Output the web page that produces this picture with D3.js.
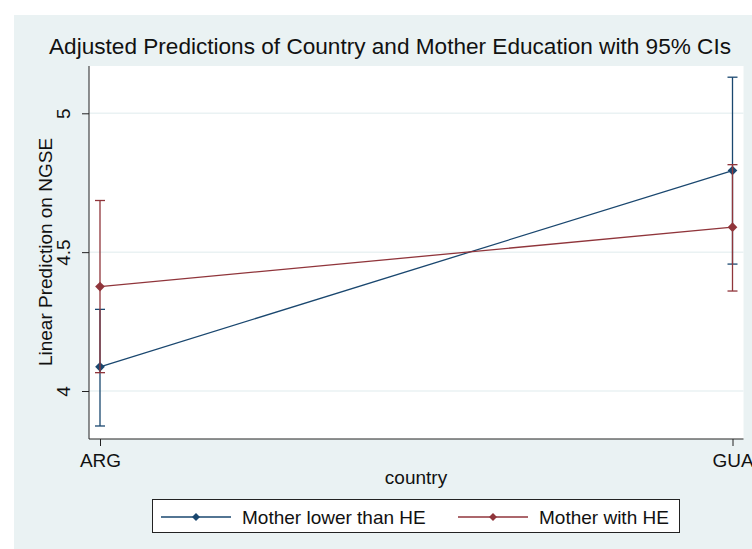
<!DOCTYPE html>
<html>
<head>
<meta charset="utf-8">
<script src="https://cdn.jsdelivr.net/npm/d3@7"></script>
<style>
  body { margin: 0; background: #fff; }
  text { font-family: "Liberation Sans", Arial, sans-serif; fill: #111; }
</style>
</head>
<body>
<script>
// data
countries = ["ARG", "GUA"]
seriesNames = ["Mother lower than HE", "Mother with HE"]
seriesColors = ["#1a476f", "#90353b"]
margins = [4.087, 4.794]          // Mother lower than HE
marginsLo = [3.874, 4.457]
marginsHi = [4.294, 5.130]
marginsHE = [4.376, 4.590]        // Mother with HE
marginsHELo = [4.066, 4.360]
marginsHEHi = [4.686, 4.815]
yTicks = [4, 4.5, 5]

width = 752
height = 549
bg = "#eaf2f3"

plotLeft = 89
plotTop = 66
plotRight = 743.5
plotBottom = 439

series = [
  {name: seriesNames[0], color: seriesColors[0], mid: margins, lo: marginsLo, hi: marginsHi},
  {name: seriesNames[1], color: seriesColors[1], mid: marginsHE, lo: marginsHELo, hi: marginsHEHi}
]

x = d3.scalePoint().domain(countries).range([100, 732.5])
y = d3.scaleLinear().domain([4, 5]).range([391, 113.3])

svg = d3.select("body")
    .append("svg")
    .attr("width", width)
    .attr("height", height)

svg.append("rect")
    .attr("x", 14).attr("y", 15)
    .attr("width", width - 14).attr("height", height - 15)
    .attr("fill", bg)

svg.append("rect")
    .attr("x", plotLeft).attr("y", plotTop)
    .attr("width", plotRight - plotLeft).attr("height", plotBottom - plotTop)
    .attr("fill", "#fff")

// gridlines
svg.selectAll("line.grid")
    .data(yTicks)
    .enter()
    .append("line")
    .attr("class", "grid")
    .attr("x1", plotLeft).attr("x2", plotRight)
    .attr("y1", function(d) { return y(d); })
    .attr("y2", function(d) { return y(d); })
    .attr("stroke", bg)
    .attr("stroke-width", 1.5)

// title
svg.append("text")
    .attr("x", 390).attr("y", 54)
    .attr("text-anchor", "middle")
    .style("font-size", "22.6px")
    .text("Adjusted Predictions of Country and Mother Education with 95% CIs")

// y axis
yAxis = svg.append("g")
    .attr("transform", "translate(" + plotLeft + ",0)")
    .call(d3.axisLeft(y).tickValues(yTicks).tickSize(7).tickSizeOuter(0)
          .tickFormat(function(d) { return d3.format("~g")(d); }))
yAxis.select(".domain").attr("d", "M0," + plotTop + "V" + plotBottom).attr("stroke", "#222")
yAxis.selectAll(".tick line").attr("stroke", "#222")
yAxis.selectAll(".tick text")
    .attr("x", 0).attr("y", -19).attr("dy", null)
    .attr("transform", "rotate(-90)")
    .attr("text-anchor", "middle")
    .style("font-size", "19px")
    .style("fill", "#111")

// x axis
xAxis = svg.append("g")
    .attr("transform", "translate(0," + plotBottom + ")")
    .call(d3.axisBottom(x).tickSize(7).tickSizeOuter(0))
xAxis.select(".domain").attr("d", "M" + plotLeft + ",0H" + plotRight).attr("stroke", "#222")
xAxis.selectAll(".tick line").attr("stroke", "#222")
xAxis.selectAll(".tick text")
    .attr("y", 28).attr("dy", null)
    .style("font-size", "19px")
    .style("fill", "#111")

svg.append("text")
    .attr("x", 416).attr("y", 484)
    .attr("text-anchor", "middle")
    .style("font-size", "19px")
    .text("country")

svg.append("text")
    .attr("transform", "translate(52,252) rotate(-90)")
    .attr("text-anchor", "middle")
    .style("font-size", "19px")
    .text("Linear Prediction on NGSE")

// CIs, lines, markers
diamond = d3.symbol().type(d3.symbolDiamond2).size(60)
line = d3.line()
    .x(function(d, i) { return x(countries[i]); })
    .y(function(d) { return y(d); })

series.forEach(function(s) {
    g = svg.append("g")
    g.selectAll("line.ci")
        .data(countries)
        .enter()
        .append("line")
        .attr("x1", function(d) { return x(d); })
        .attr("x2", function(d) { return x(d); })
        .attr("y1", function(d, i) { return y(s.lo[i]); })
        .attr("y2", function(d, i) { return y(s.hi[i]); })
        .attr("stroke", s.color).attr("stroke-width", 1.3)
    ;["lo", "hi"].forEach(function(k) {
        g.selectAll("line.cap" + k)
            .data(countries)
            .enter()
            .append("line")
            .attr("x1", function(d) { return x(d) - 5; })
            .attr("x2", function(d) { return x(d) + 5; })
            .attr("y1", function(d, i) { return y(s[k][i]); })
            .attr("y2", function(d, i) { return y(s[k][i]); })
            .attr("stroke", s.color).attr("stroke-width", 1.3)
    })
    g.append("path")
        .attr("d", line(s.mid))
        .attr("fill", "none")
        .attr("stroke", s.color).attr("stroke-width", 1.3)
    g.selectAll("path.pt")
        .data(s.mid)
        .enter()
        .append("path")
        .attr("d", diamond)
        .attr("transform", function(d, i) { return "translate(" + x(countries[i]) + "," + y(d) + ")"; })
        .attr("fill", s.color)
})

// legend
legend = svg.append("g")
legend.append("rect")
    .attr("x", 152.5).attr("y", 499.5)
    .attr("width", 527).attr("height", 33)
    .attr("fill", "#fff").attr("stroke", "#222").attr("stroke-width", 1)

legendX = [161, 458]
series.forEach(function(s, i) {
    lx = legendX[i]
    legend.append("line")
        .attr("x1", lx).attr("x2", lx + 70)
        .attr("y1", 517).attr("y2", 517)
        .attr("stroke", s.color).attr("stroke-width", 1.3)
    legend.append("path")
        .attr("d", d3.symbol().type(d3.symbolDiamond2).size(40))
        .attr("transform", "translate(" + (lx + 35) + ",517)")
        .attr("fill", s.color)
    legend.append("text")
        .attr("x", lx + 81).attr("y", 524)
        .style("font-size", "19px")
        .text(s.name)
})
</script>
</body>
</html>
